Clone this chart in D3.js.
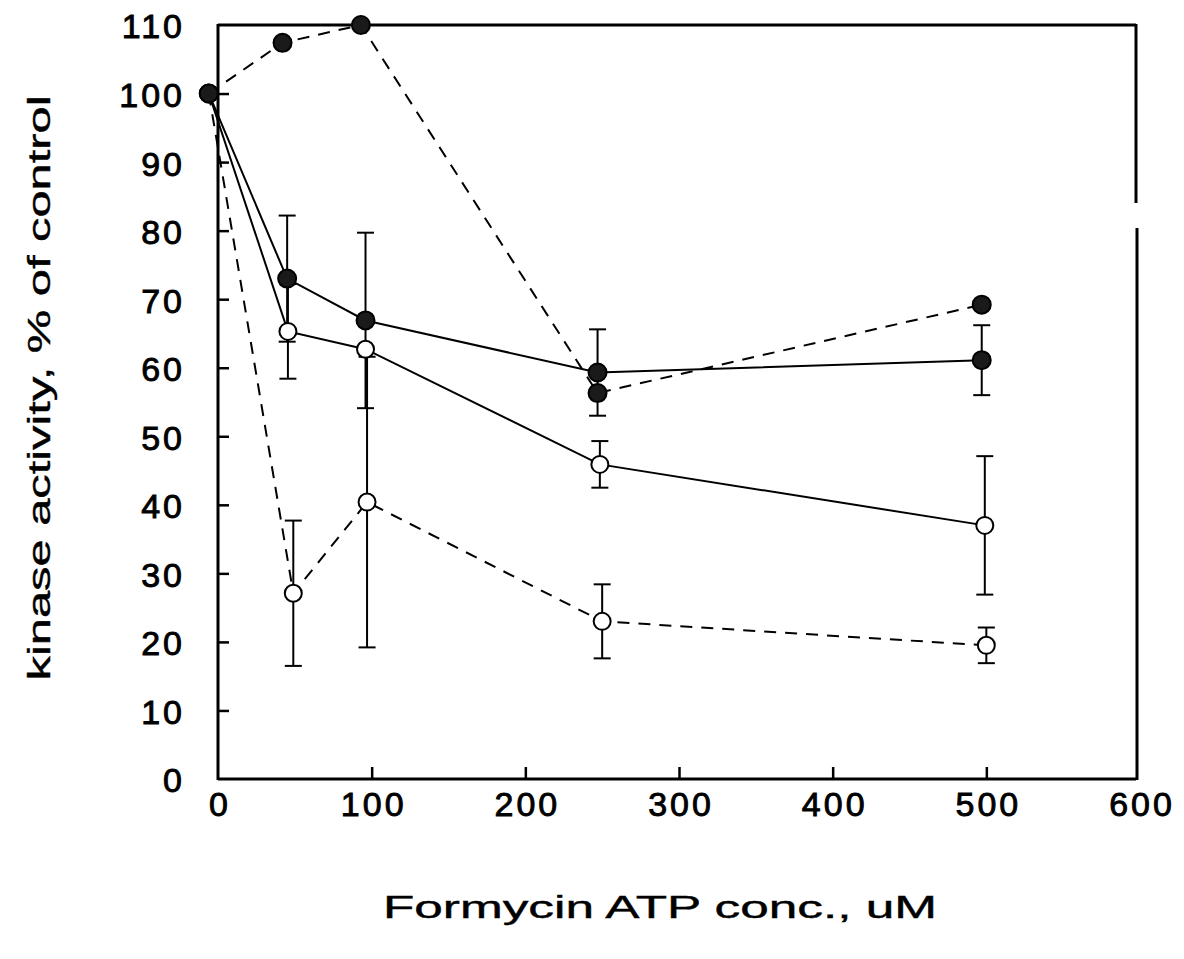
<!DOCTYPE html>
<html><head><meta charset="utf-8">
<script src="https://cdn.jsdelivr.net/npm/d3@7"></script>
<style>body{margin:0;background:#fff}svg{display:block}</style>
</head><body>
<svg id="chart" width="1184" height="959"></svg>
<script>
// ---- data ----
const xTicks = [0, 100, 200, 300, 400, 500, 600];
const yTicks = [0, 10, 20, 30, 40, 50, 60, 70, 80, 90, 100, 110];

const filledDashedX = [-6, 42, 93, 247, 497];
const filledDashedY = [100, 107.4, 110, 56.3, 69.2];

const filledSolidX = [-6, 45, 96, 247, 497];
const filledSolidY = [100, 73.0, 66.9, 59.3, 61.1];
const filledSolidErr = [0, 9.2, 12.8, 6.3, 5.1];

const openSolidX = [-6, 45.5, 96, 248.5, 499];
const openSolidY = [100, 65.3, 62.7, 45.9, 37.0];
const openSolidErr = [0, 6.9, 0, 3.4, 10.1];

const openDashedX = [-6, 49, 97, 250, 500];
const openDashedY = [100, 27.1, 40.4, 23.0, 19.5];
const openDashedErr = [0, 10.6, 21.2, 5.4, 2.6];

const xTitle = "Formycin ATP conc., uM";
const yTitle = "kinase activity, % of control";

// ---- chart ----
const svg = d3.select("#chart");
const x = d3.scaleLinear().domain([0, 600]).range([218, 1140]);
const y = d3.scaleLinear().domain([0, 110]).range([779, 25]);
const font = "'Liberation Sans', Arial, Helvetica, sans-serif";

function zip(xs, ys, es) { return xs.map((v, i) => ({x: v, y: ys[i], e: es ? es[i] : 0})); }
const series = [
  {pts: zip(openDashedX, openDashedY, openDashedErr), dashed: true, filled: false},
  {pts: zip(openSolidX, openSolidY, openSolidErr), dashed: false, filled: false},
  {pts: zip(filledSolidX, filledSolidY, filledSolidErr), dashed: false, filled: true},
  {pts: zip(filledDashedX, filledDashedY), dashed: true, filled: true}
];

// frame
const g = svg.append("g");
const x0 = x(0), x1 = x(600) - 4, y0 = y(0), y1 = y(110);
g.append("line").attr("x1", x0).attr("x2", x0).attr("y1", y1 - 1).attr("y2", y0 + 1);
g.append("line").attr("x1", x0).attr("x2", x1).attr("y1", y0).attr("y2", y0);
g.append("line").attr("x1", x0).attr("x2", x1).attr("y1", y1).attr("y2", y1);
g.append("line").attr("x1", x1).attr("x2", x1).attr("y1", y1 - 1).attr("y2", 203);
g.append("line").attr("x1", x1 + 1).attr("x2", x1 + 1).attr("y1", 228).attr("y2", y0 + 1);
g.selectAll("line").attr("stroke", "#000").attr("stroke-width", 3);

// axes (ticks inward)
const xAxis = d3.axisBottom(x).tickValues(xTicks).tickSizeInner(-12).tickSizeOuter(0).tickPadding(13).tickFormat(d3.format("d"));
const gx = svg.append("g").attr("transform", `translate(0,${y0})`).call(xAxis);
gx.select(".domain").remove();
gx.selectAll(".tick line").attr("stroke", "#000").attr("stroke-width", 2.5)
  .filter(d => d === 0 || d === 600).remove();
gx.selectAll(".tick text").attr("font-family", font).attr("font-size", 34)
  .attr("letter-spacing", 3).attr("dx", 1.5).attr("fill", "#000")
  .attr("stroke", "#000").attr("stroke-width", 0.9).attr("dy", "0.72em");

const yAxis = d3.axisLeft(y).tickValues(yTicks).tickSizeInner(-11).tickSizeOuter(0).tickPadding(33).tickFormat(d3.format("d"));
const gy = svg.append("g").attr("transform", `translate(${x0},0)`).call(yAxis);
gy.select(".domain").remove();
gy.selectAll(".tick line").attr("stroke", "#000").attr("stroke-width", 2.5)
  .filter(d => d === 0 || d === 110).remove();
gy.selectAll(".tick text").attr("font-family", font).attr("font-size", 34)
  .attr("letter-spacing", 3).attr("fill", "#000")
  .attr("stroke", "#000").attr("stroke-width", 0.9).attr("dy", "0.38em");

// lines
const line = d3.line().x(d => x(d.x)).y(d => y(d.y));
svg.append("g").selectAll("path").data(series).join("path")
  .attr("d", s => line(s.pts))
  .attr("fill", "none").attr("stroke", "#000").attr("stroke-width", 2)
  .attr("stroke-dasharray", s => s.dashed ? "12,9" : null);

// error bars
const cap = 8.5;
const eb = svg.append("g").attr("stroke", "#000").attr("stroke-width", 2);
series.forEach(s => {
  s.pts.filter(p => p.e > 0).forEach(p => {
    const cx = x(p.x), yt = y(p.y + p.e), yb = y(p.y - p.e);
    eb.append("line").attr("x1", cx).attr("x2", cx).attr("y1", yt).attr("y2", yb);
    eb.append("line").attr("x1", cx - cap).attr("x2", cx + cap).attr("y1", yt).attr("y2", yt);
    eb.append("line").attr("x1", cx - cap).attr("x2", cx + cap).attr("y1", yb).attr("y2", yb);
  });
});

// markers
series.forEach(s => {
  svg.append("g").selectAll("circle").data(s.pts).join("circle")
    .attr("cx", d => x(d.x)).attr("cy", d => y(d.y))
    .attr("r", s.filled ? 9 : 8.5)
    .attr("fill", s.filled ? "#1a1a1a" : "#fff")
    .attr("stroke", "#000").attr("stroke-width", 2);
});

// titles
svg.append("text").attr("x", 660).attr("y", 918).attr("text-anchor", "middle")
  .attr("font-family", font).attr("font-size", 31).attr("fill", "#000")
  .attr("stroke", "#000").attr("stroke-width", 0.4)
  .attr("textLength", 554).attr("lengthAdjust", "spacingAndGlyphs").text(xTitle);
svg.append("text").attr("transform", "translate(50,388) rotate(-90)").attr("text-anchor", "middle")
  .attr("font-family", font).attr("font-size", 32).attr("fill", "#000")
  .attr("stroke", "#000").attr("stroke-width", 0.4)
  .attr("textLength", 585).attr("lengthAdjust", "spacingAndGlyphs").text(yTitle);
</script>
</body></html>
